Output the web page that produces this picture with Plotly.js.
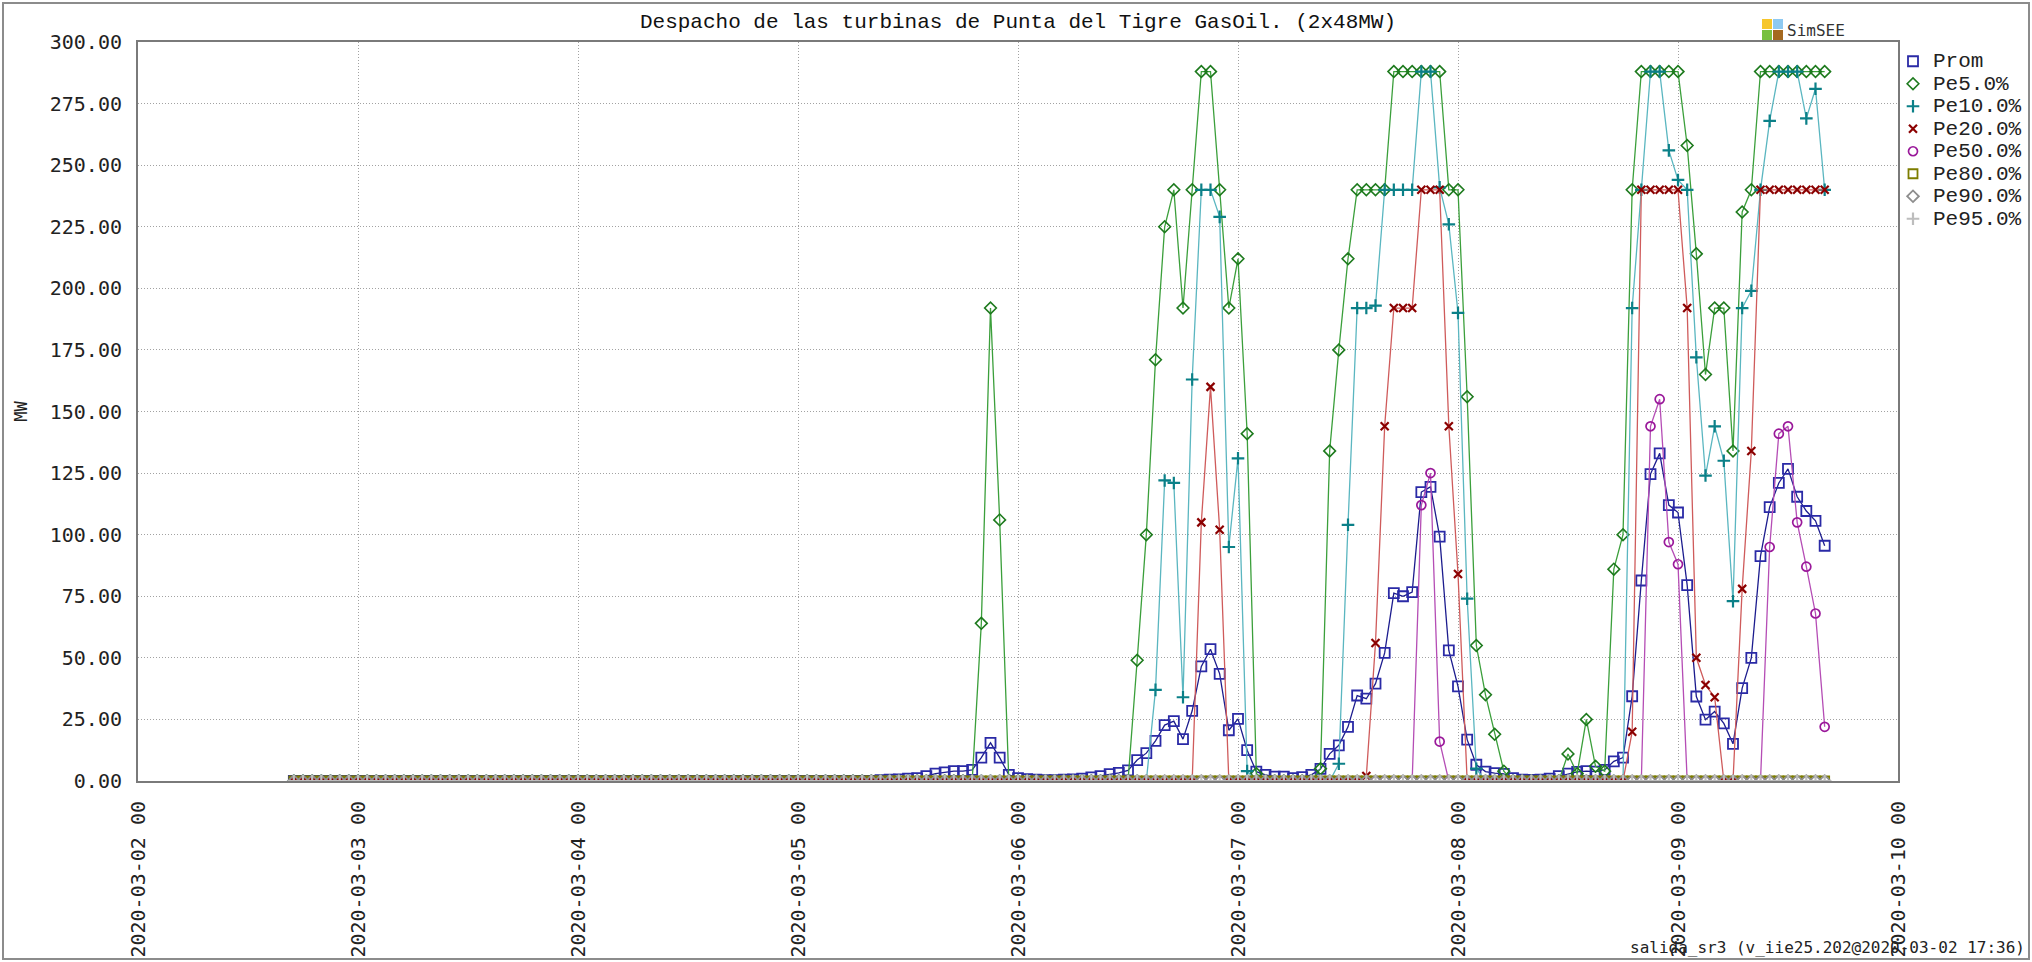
<!DOCTYPE html>
<html>
<head>
<meta charset="utf-8">
<script src="https://cdn.plot.ly/plotly-3.0.1.min.js"></script>
<style>
html,body{margin:0;padding:0;background:#fff;}
#chart{position:absolute;left:0;top:0;width:2032px;height:962px;}
#frame{position:absolute;left:2px;top:2px;width:2028px;height:958px;border:2px solid #8c8c8c;box-sizing:border-box;pointer-events:none;}
</style>
</head>
<body>
<div id="chart"></div>
<div id="frame"></div>
<script>
// ---------- data ----------
const TITLE = 'Despacho de las turbinas de Punta del Tigre GasOil. (2x48MW)';
const Y_TITLE = 'MW';
const FOOTER = 'salida_sr3 (v_iie25.202@2020-03-02 17:36)';
const LOGO_TEXT = 'SimSEE';
const SERIES_NAMES = ['Prom','Pe5.0%','Pe10.0%','Pe20.0%','Pe50.0%','Pe80.0%','Pe90.0%','Pe95.0%'];
const X_RANGE = ['2020-03-02 00:00', '2020-03-10 00:00'];
const FIRST_HOUR = '2020-03-02T17:00:00';   // hourly samples, 168 of them

const prom = [
0,0,0,0,0,0,0,0,0,0,0,0,0,0,0,0,0,0,0,0,0,0,0,0,
0,0,0,0,0,0,0,0,0,0,0,0,0,0,0,0,0,0,0,0,0,0,0,0,
0,0,0,0,0,0,0,0,0,0,0,0,0,0,0,0,0.3,0.5,0.7,1,1.2,2,3,3.5,
4,4,4.5,9.5,15.5,9.5,2.5,1.2,0.8,0.5,0.3,0.3,0.5,0.7,1,1.5,2,2.8,3.3,4.3,8.5,11.3,16.3,22.7,
24.3,17,28.5,46.5,53.5,43.5,20.6,25.2,12.5,3.8,2.5,1.8,1.8,1.2,1.6,2.5,4.9,11,14.5,22,34.7,33.4,39.5,52,
76.3,75,76.7,117.3,119.4,99.2,53,38.4,16.8,6.6,3.8,3.2,2.9,1.2,0.5,0.4,0.5,1,2,3,3.7,4,3.8,4.5,
8,9.5,34.4,81.4,124.6,133,112,109,79.5,34.3,24.9,28.2,23.4,15.1,37.7,50,91.3,111.2,121,126.7,115.4,109.6,105.6,95.5
];
const pe5 = [
0,0,0,0,0,0,0,0,0,0,0,0,0,0,0,0,0,0,0,0,0,0,0,0,
0,0,0,0,0,0,0,0,0,0,0,0,0,0,0,0,0,0,0,0,0,0,0,0,
0,0,0,0,0,0,0,0,0,0,0,0,0,0,0,0,0,0,0,0,0,0,0,0,
0,0,0,64,192,106,0,0,0,0,0,0,0,0,0,0,0,0,0,0,49,100,171,225,
240,192,240,288,288,240,192,212,141,3,0,0,0,0,0,0,5,134,175,212,240,240,240,240,
288,288,288,288,288,288,240,240,156,55,35,19,4,0,0,0,0,0,0,11,3,25,6,4,
86,100,240,288,288,288,288,288,258,214,165,192,192,134,231,240,288,288,288,288,288,288,288,288
];
const pe10 = [
0,0,0,0,0,0,0,0,0,0,0,0,0,0,0,0,0,0,0,0,0,0,0,0,
0,0,0,0,0,0,0,0,0,0,0,0,0,0,0,0,0,0,0,0,0,0,0,0,
0,0,0,0,0,0,0,0,0,0,0,0,0,0,0,0,0,0,0,0,0,0,0,0,
0,0,0,0,0,0,0,0,0,0,0,0,0,0,0,0,0,0,0,0,0,0,37,122,
121,34,163,240,240,229,95,131,4,0,0,0,0,0,0,0,0,0,7,104,192,192,193,240,
240,240,240,288,288,241,226,190,74,5,0,0,0,0,0,0,0,0,0,0,0,0,0,0,
0,0,192,240,288,288,256,244,240,172,124,144,130,73,192,199,240,268,288,288,288,269,281,240
];
const pe20 = [
0,0,0,0,0,0,0,0,0,0,0,0,0,0,0,0,0,0,0,0,0,0,0,0,
0,0,0,0,0,0,0,0,0,0,0,0,0,0,0,0,0,0,0,0,0,0,0,0,
0,0,0,0,0,0,0,0,0,0,0,0,0,0,0,0,0,0,0,0,0,0,0,0,
0,0,0,0,0,0,0,0,0,0,0,0,0,0,0,0,0,0,0,0,0,0,0,0,
0,0,0,105,160,102,0,0,0,0,0,0,0,0,0,0,0,0,0,0,0,2,56,144,
192,192,192,240,240,240,144,84,0,0,0,0,0,0,0,0,0,0,0,0,0,0,0,0,
0,0,20,240,240,240,240,240,192,50,39,34,0,0,78,134,240,240,240,240,240,240,240,240
];
const pe50 = [
0,0,0,0,0,0,0,0,0,0,0,0,0,0,0,0,0,0,0,0,0,0,0,0,
0,0,0,0,0,0,0,0,0,0,0,0,0,0,0,0,0,0,0,0,0,0,0,0,
0,0,0,0,0,0,0,0,0,0,0,0,0,0,0,0,0,0,0,0,0,0,0,0,
0,0,0,0,0,0,0,0,0,0,0,0,0,0,0,0,0,0,0,0,0,0,0,0,
0,0,0,0,0,0,0,0,0,0,0,0,0,0,0,0,0,0,0,0,0,0,0,0,
0,0,0,112,125,16,0,0,0,0,0,0,0,0,0,0,0,0,0,0,0,0,0,0,
0,0,0,0,144,155,97,88,0,0,0,0,0,0,0,0,0,95,141,144,105,87,68,22
];
const pe80 = [
0,0,0,0,0,0,0,0,0,0,0,0,0,0,0,0,0,0,0,0,0,0,0,0,
0,0,0,0,0,0,0,0,0,0,0,0,0,0,0,0,0,0,0,0,0,0,0,0,
0,0,0,0,0,0,0,0,0,0,0,0,0,0,0,0,0,0,0,0,0,0,0,0,
0,0,0,0,0,0,0,0,0,0,0,0,0,0,0,0,0,0,0,0,0,0,0,0,
0,0,0,0,0,0,0,0,0,0,0,0,0,0,0,0,0,0,0,0,0,0,0,0,
0,0,0,0,0,0,0,0,0,0,0,0,0,0,0,0,0,0,0,0,0,0,0,0,
0,0,0,0,0,0,0,0,0,0,0,0,0,0,0,0,0,0,0,0,0,0,0,0
];
const pe90 = [
0,0,0,0,0,0,0,0,0,0,0,0,0,0,0,0,0,0,0,0,0,0,0,0,
0,0,0,0,0,0,0,0,0,0,0,0,0,0,0,0,0,0,0,0,0,0,0,0,
0,0,0,0,0,0,0,0,0,0,0,0,0,0,0,0,0,0,0,0,0,0,0,0,
0,0,0,0,0,0,0,0,0,0,0,0,0,0,0,0,0,0,0,0,0,0,0,0,
0,0,0,0,0,0,0,0,0,0,0,0,0,0,0,0,0,0,0,0,0,0,0,0,
0,0,0,0,0,0,0,0,0,0,0,0,0,0,0,0,0,0,0,0,0,0,0,0,
0,0,0,0,0,0,0,0,0,0,0,0,0,0,0,0,0,0,0,0,0,0,0,0
];
const pe95 = [
0,0,0,0,0,0,0,0,0,0,0,0,0,0,0,0,0,0,0,0,0,0,0,0,
0,0,0,0,0,0,0,0,0,0,0,0,0,0,0,0,0,0,0,0,0,0,0,0,
0,0,0,0,0,0,0,0,0,0,0,0,0,0,0,0,0,0,0,0,0,0,0,0,
0,0,0,0,0,0,0,0,0,0,0,0,0,0,0,0,0,0,0,0,0,0,0,0,
0,0,0,0,0,0,0,0,0,0,0,0,0,0,0,0,0,0,0,0,0,0,0,0,
0,0,0,0,0,0,0,0,0,0,0,0,0,0,0,0,0,0,0,0,0,0,0,0,
0,0,0,0,0,0,0,0,0,0,0,0,0,0,0,0,0,0,0,0,0,0,0,0
];
const SERIES_VALUES = [prom, pe5, pe10, pe20, pe50, pe80, pe90, pe95];

// ---------- styles ----------
const STYLES = [
  {line:'#1c1c8e', symbol:'square-open',  size:10, mcolor:'#2a2aa6', mlw:1.8},
  {line:'#3b9f3b', symbol:'diamond-open', size:9,  mcolor:'#1d7a1d', mlw:1.6},
  {line:'#5ab6c0', symbol:'cross-thin',   size:9,  mcolor:'#0b8088', mlw:2.2},
  {line:'#cf5b5b', symbol:'x-thin',       size:8,  mcolor:'#8b0000', mlw:2.2},
  {line:'#b54db5', symbol:'circle-open',  size:9,  mcolor:'#9a189a', mlw:1.7},
  {line:'#808000', symbol:'square-open',  size:9,  mcolor:'#7d7d00', mlw:1.8},
  {line:'#9a9a9a', symbol:'diamond-open', size:9,  mcolor:'#8e8e8e', mlw:1.8},
  {line:'#cccccc', symbol:'cross-thin',   size:9,  mcolor:'#bdbdbd', mlw:2.2}
];

// hourly time stamps
const times = [];
{
  const t0 = new Date(FIRST_HOUR + 'Z').getTime();
  for (let i = 0; i < prom.length; i++) {
    const d = new Date(t0 + i * 3600000);
    times.push(d.toISOString().slice(0, 19).replace('T', ' '));
  }
}

const traces = [];
SERIES_NAMES.forEach((name, i) => {
  const s = STYLES[i];
  traces.push({
    type:'scatter', mode:'lines', x:times, y:SERIES_VALUES[i],
    line:{color:s.line, width:1.3}, showlegend:false, hoverinfo:'skip'
  });
  traces.push({
    type:'scatter', mode:'markers', x:times, y:SERIES_VALUES[i],
    name:'<span style="font-size:21px">' + name + '</span>',
    marker:{symbol:s.symbol, size:s.size, color:s.mcolor, line:{color:s.mcolor, width:s.mlw}},
    hoverinfo:'skip'
  });
});

// ---------- layout helpers (pixel -> paper) ----------
const W = 2032, H = 962;
const M = {l:138, r:134, t:42, b:181};
const PW = W - M.l - M.r, PH = H - M.t - M.b;
const px = v => (v - M.l) / PW;
const py = v => (H - M.b - v) / PH;

const LOGO = [
  {x0:1762, y0:19, c:'#f6c62c'}, {x0:1773, y0:19, c:'#8ec9f1'},
  {x0:1762, y0:30, c:'#78c040'}, {x0:1773, y0:30, c:'#a5691f'}
];
const shapes = LOGO.map(q => ({
  type:'rect', xref:'paper', yref:'paper',
  x0:px(q.x0), x1:px(q.x0 + 10), y0:py(q.y0 + 10), y1:py(q.y0),
  fillcolor:q.c, line:{width:0}
}));

const tickFont = {family:'DejaVu Sans Mono', size:20, color:'#222'};
const GRID = {showgrid:true, gridcolor:'#a2a2a2', griddash:'1px,2px', gridwidth:1};

const layout = {
  width:W, height:H,
  margin:{l:M.l, r:M.r, t:M.t, b:M.b, pad:0, autoexpand:false},
  paper_bgcolor:'#ffffff', plot_bgcolor:'#ffffff',
  showlegend:true,
  title:{text:TITLE, font:{family:'Liberation Mono', size:21, color:'#111'},
         x:0.5, xref:'paper', xanchor:'center', y:1 - 21/H, yref:'container', yanchor:'middle'},
  xaxis:Object.assign({
    type:'date', range:X_RANGE, tick0:'2020-03-02', dtick:86400000,
    tickformat:'%Y-%m-%d %H', tickangle:-90, tickfont:tickFont,
    ticks:'', ticklabelstandoff:10,
    showline:true, mirror:true, linecolor:'#7a7a7a', linewidth:2,
    zeroline:false, automargin:false, fixedrange:true
  }, GRID),
  yaxis:Object.assign({
    range:[0,300], tick0:0, dtick:25, tickformat:'.2f', tickfont:tickFont,
    ticks:'', ticklabelstandoff:10,
    showline:true, mirror:true, linecolor:'#7a7a7a', linewidth:2,
    zeroline:false, automargin:false, fixedrange:true,
    title:{text:Y_TITLE, font:{family:'DejaVu Sans Mono', size:17, color:'#222'}, standoff:18}
  }, GRID),
  legend:{
    x:px(1893), xanchor:'left', y:py(45), yanchor:'top',
    font:{family:'Liberation Mono', size:15, color:'#222'},
    bgcolor:'rgba(0,0,0,0)', borderwidth:0, tracegroupgap:0
  },
  shapes:shapes,
  annotations:[
    {text:LOGO_TEXT, xref:'paper', yref:'paper', x:px(1785), y:py(31), xanchor:'left', yanchor:'middle',
     showarrow:false, font:{family:'DejaVu Sans Mono', size:16, color:'#333'}},
    {text:FOOTER, xref:'paper', yref:'paper', x:px(2027), y:py(947), xanchor:'right', yanchor:'middle',
     showarrow:false, font:{family:'DejaVu Sans Mono', size:16, color:'#222'}}
  ],
  hovermode:false
};

Plotly.newPlot('chart', traces, layout, {displayModeBar:false, staticPlot:true});
</script>
</body>
</html>
